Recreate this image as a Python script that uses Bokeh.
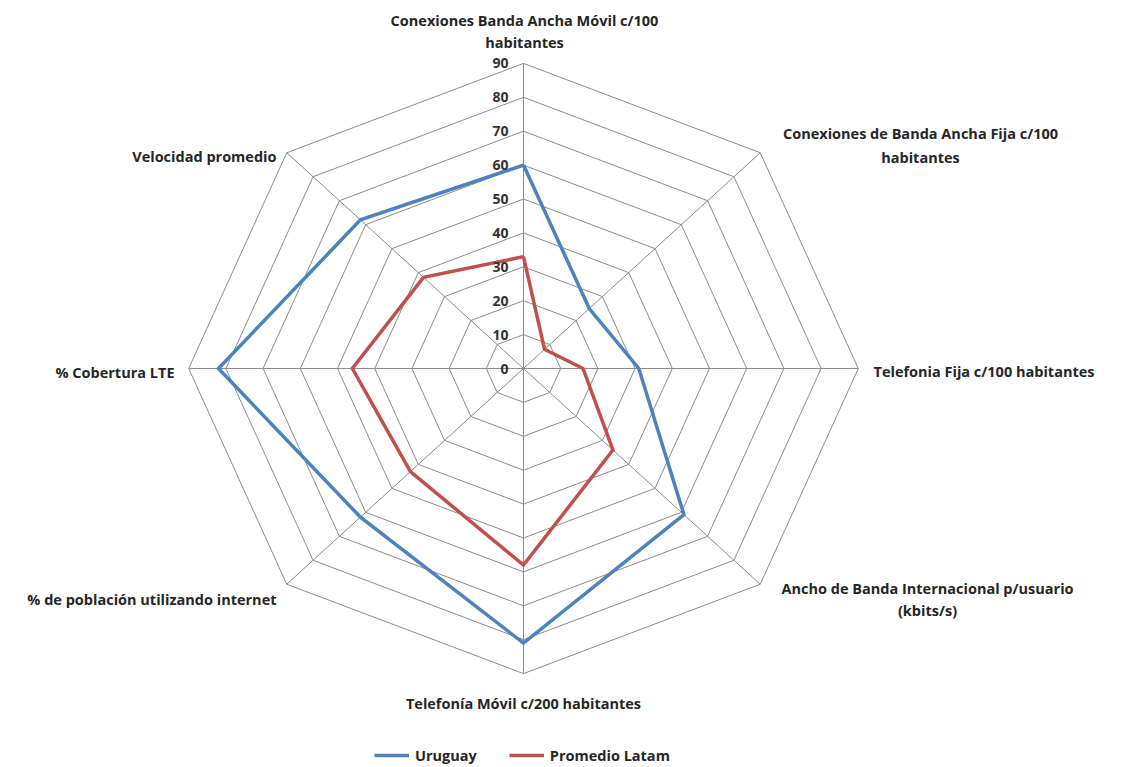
import numpy as np
from bokeh.plotting import figure
from bokeh.models import ColumnDataSource, Legend, LegendItem, Range1d
from bokeh.core.properties import value
from bokeh.embed import file_html
from bokeh.resources import INLINE

categories = [
    "Conexiones Banda Ancha Móvil c/100 habitantes",
    "Conexiones de Banda Ancha Fija c/100 habitantes",
    "Telefonia Fija c/100 habitantes",
    "Ancho de Banda Internacional p/usuario (kbits/s)",
    "Telefonía Móvil c/200 habitantes",
    "% de población utilizando internet",
    "% Cobertura LTE",
    "Velocidad promedio",
]
uruguay = [60, 25, 31, 61, 81, 62, 82, 62]
latam = [33, 8, 16, 34, 58, 43, 46, 38]
ticks = [0, 10, 20, 30, 40, 50, 60, 70, 80, 90]

FONT = "Open Sans"
n = len(categories)
ang = np.pi / 2 - np.arange(n) * 2 * np.pi / n

def xy(vals):
    v = np.asarray(vals, dtype=float)
    x = v * np.cos(ang)
    y = v * np.sin(ang)
    return list(np.append(x, x[0])), list(np.append(y, y[0]))

W, H = 1127, 767
sx, sy = 3.72, 3.39
cx, cy = 523, 368
p = figure(width=W, height=H, output_backend="svg", toolbar_location=None,
           x_range=Range1d(-cx / sx, (W - cx) / sx),
           y_range=Range1d(-(H - cy) / sy, cy / sy),
           min_border=0, outline_line_color=None)
p.axis.visible = False
p.grid.visible = False
p.background_fill_color = "white"
p.border_fill_color = "white"

# rings
rx, ry = [], []
for t in ticks[1:]:
    a, b = xy([t] * n)
    rx.append(a); ry.append(b)
p.multi_line(rx, ry, line_color="#8c8c8c", line_width=1)
# spokes
mx = max(ticks)
sxs = [[0, mx * np.cos(a)] for a in ang]
sys_ = [[0, mx * np.sin(a)] for a in ang]
p.multi_line(sxs, sys_, line_color="#8c8c8c", line_width=1)

ux, uy = xy(uruguay)
lx, ly = xy(latam)
r1 = p.line(ux, uy, line_color="#4F81BD", line_width=3.5, line_join="miter")
r2 = p.line(lx, ly, line_color="#C0504D", line_width=3.5, line_join="miter")

# tick labels
p.text(x=[0] * len(ticks), y=ticks, text=[str(t) for t in ticks],
       text_align="right", text_baseline="middle", x_offset=-15,
       text_font=value(FONT), text_font_style="bold", text_font_size="14px",
       text_color="#333333")

def px2d(px, py):
    return (px - cx) / sx, (cy - py) / sy

labels = [
    ("Conexiones Banda Ancha Móvil c/100", 524, 20, "center"),
    ("habitantes", 524, 42, "center"),
    ("Conexiones de Banda Ancha Fija c/100", 920, 133, "center"),
    ("habitantes", 920, 157, "center"),
    ("Telefonia Fija c/100 habitantes", 873, 371, "left"),
    ("Ancho de Banda Internacional p/usuario", 927, 588, "center"),
    ("(kbits/s)", 927, 610, "center"),
    ("Telefonía Móvil c/200 habitantes", 523, 703, "center"),
    ("% de población utilizando internet", 276, 599, "right"),
    ("% Cobertura LTE", 174, 372, "right"),
    ("Velocidad promedio", 276, 156, "right"),
]
for txt, lxp, lyp, al in labels:
    dx, dy = px2d(lxp, lyp)
    p.text(x=[dx], y=[dy], text=[txt], text_align=al, text_baseline="middle",
           text_font=value(FONT), text_font_style="bold", text_font_size="14.5px",
           text_color="#262626")

legend = Legend(items=[LegendItem(label="Uruguay", renderers=[r1]),
                       LegendItem(label="Promedio Latam", renderers=[r2])],
                orientation="horizontal", location=(374, 2),
                glyph_width=35, spacing=32, label_standoff=6,
                label_text_font=FONT, label_text_font_style="bold",
                label_text_font_size="14.5px", label_text_color="#262626",
                border_line_color=None, background_fill_alpha=0)
p.add_layout(legend, "center")

open("out.html", "w").write(file_html(p, INLINE))
